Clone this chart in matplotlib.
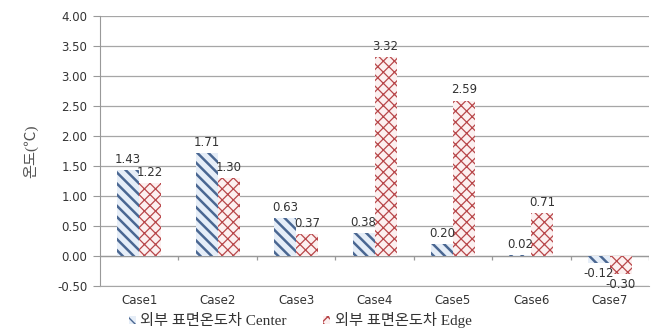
import numpy as np
import matplotlib.pyplot as plt

cases = ["Case1", "Case2", "Case3", "Case4", "Case5", "Case6", "Case7"]
center_diff = [1.43, 1.71, 0.63, 0.38, 0.20, 0.02, -0.12]
edge_diff = [1.22, 1.30, 0.37, 3.32, 2.59, 0.71, -0.30]
series_names = ["외부 표면온도차 Center", "외부 표면온도차 Edge"]

serif_kr = ['Liberation Serif', 'Noto Sans CJK KR']
label_color = '#333333'

fig = plt.figure(figsize=(6.6, 3.33), dpi=100)
ax = fig.add_axes([0.1515, 0.141, 0.832, 0.811])

x = np.arange(len(cases))
w = 0.28

with plt.rc_context({'hatch.linewidth': 1.8}):
    center_bars = ax.bar(x - w / 2, center_diff, w, facecolor='#e6eef8',
                         edgecolor='#4a6792', hatch='\\\\\\', linewidth=0,
                         zorder=3)
with plt.rc_context({'hatch.linewidth': 0.9}):
    edge_bars = ax.bar(x + w / 2, edge_diff, w, facecolor='#fcf0f0',
                       edgecolor='#b8474a', hatch='xxx', linewidth=0, zorder=3)

# per-patch hatch widths where the api supports it
for bars, lw in [(center_bars, 1.8), (edge_bars, 0.9)]:
    for b in bars:
        if hasattr(b, 'set_hatch_linewidth'):
            b.set_hatch_linewidth(lw)

# value labels above (or below) each bar
for bars, vals in [(center_bars, center_diff), (edge_bars, edge_diff)]:
    for b, v in zip(bars, vals):
        off = 3 if v >= 0 else -3
        ax.annotate(f"{v:.2f}", (b.get_x() + b.get_width() / 2, v),
                    xytext=(0, off), textcoords='offset points',
                    ha='center', va='bottom' if v >= 0 else 'top',
                    fontsize=8.5, color=label_color, zorder=5)

ax.set_xlim(-0.5, len(cases) - 0.5)
ax.set_ylim(-0.5, 4.0)
ax.set_yticks(np.arange(-0.5, 4.01, 0.5))
ax.set_yticklabels([f"{t:.2f}" for t in np.arange(-0.5, 4.01, 0.5)])
ax.set_xticks(x)
ax.set_xticklabels(cases)
ax.tick_params(axis='x', length=0, pad=6, labelsize=8.5, labelcolor=label_color)
ax.tick_params(axis='y', length=5, color='#999999', labelsize=8.5,
               labelcolor=label_color, pad=4)

ax.grid(axis='y', color='#a6a6a6', linewidth=0.9, zorder=0)
for s in ['top', 'right']:
    ax.spines[s].set_visible(False)
ax.spines['left'].set_color('#999999')
ax.spines['bottom'].set_color('#a6a6a6')

# category axis at zero with boundary ticks
ax.axhline(0, color='#999999', linewidth=0.9, zorder=2)
ax.vlines(np.arange(len(cases)) + 0.5, -0.07, 0, color='#999999',
          linewidth=0.9, zorder=2)

ax.set_ylabel("온도(℃)", family=serif_kr, fontsize=11, color='#555555',
              labelpad=14)

leg = fig.legend([center_bars, edge_bars], series_names, loc='center',
                 bbox_to_anchor=(0.455, 0.038), ncol=2, frameon=False,
                 handlelength=0.45, handleheight=0.45, handletextpad=0.3,
                 columnspacing=2.4, prop={'family': serif_kr, 'size': 11})
for t in leg.get_texts():
    t.set_color(label_color)

fig.savefig("out.png", dpi=100)
